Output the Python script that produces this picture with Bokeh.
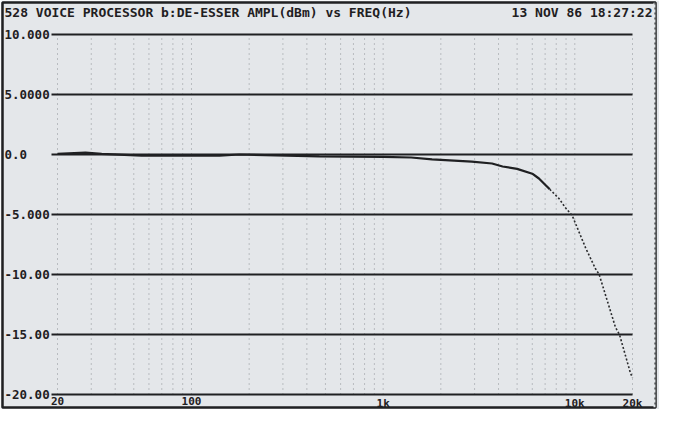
import math
from bokeh.plotting import figure
from bokeh.models import Range1d, Span
from bokeh.core.properties import value
from bokeh.embed import file_html
from bokeh.resources import INLINE

# ---- data ----
freq_hz = [20, 28, 34, 55, 140, 178, 465, 1000, 1400, 1800, 2900, 3700, 4200, 5000,
           6000, 6500, 7400, 8300, 8900, 9700, 11400, 12800, 13400, 16300, 17100, 19500, 20000]
level_dbm = [0.05, 0.15, 0.05, -0.1, -0.1, 0.0, -0.15, -0.2, -0.25, -0.4, -0.6, -0.75, -1.0, -1.2,
             -1.6, -2.0, -2.9, -3.7, -4.4, -5.1, -7.8, -9.5, -10.0, -14.4, -15.0, -18.2, -18.6]

y_ticks = [-20, -15, -10, -5, 0, 5, 10]
y_tick_labels = ["-20.00", "-15.00", "-10.00", "-5.000", "0.0", "5.0000", "10.000"]
x_ticks = [20, 100, 1000, 10000, 20000]
x_tick_labels = ["20", "100", "1k", "10k", "20k"]
x_grid = [20, 30, 40, 50, 60, 70, 80, 90,
          100, 200, 300, 400, 500, 600, 700, 800, 900,
          1000, 2000, 3000, 4000, 5000, 6000, 7000, 8000, 9000,
          10000, 20000]

title_text = "528 VOICE PROCESSOR  b:DE-ESSER AMPL(dBm) vs FREQ(Hz)"
date_text = "13 NOV 86 18:27:22"

# ---- layout (pixels) ----
W, H = 659, 409
B_L, B_R, B_T, B_B = 2, 4, 2, 2          # borders around the frame
FW, FH = W - B_L - B_R, H - B_T - B_B     # frame size
PX_LEFT, PX_RIGHT = 55, 630               # where 20 Hz and 20 kHz sit inside the frame
PY_TOP, PY_BOT = 32, 392                  # where +10 dB and -20 dB sit inside the frame

f_lo, f_hi = x_ticks[0], x_ticks[-1]
d_lo, d_hi = y_ticks[0], y_ticks[-1]
ppd = (PX_RIGHT - PX_LEFT) / (math.log10(f_hi) - math.log10(f_lo))
x0 = 10 ** (math.log10(f_lo) - PX_LEFT / ppd)
x1 = 10 ** (math.log10(f_lo) + (FW - PX_LEFT) / ppd)
ppdb = (PY_BOT - PY_TOP) / (d_hi - d_lo)
y1 = d_hi + PY_TOP / ppdb
y0 = d_hi - (FH - PY_TOP) / ppdb
grid_x_start = 10 ** (math.log10(f_lo) - 6 / ppd)   # rules start just after the labels

PAPER = "#e4e7ea"
INK = "#1f2022"
FONT = "DejaVu Sans Mono"

p = figure(width=W, height=H, x_axis_type="log",
           x_range=Range1d(x0, x1), y_range=Range1d(y0, y1),
           x_axis_location=None, y_axis_location=None,
           output_backend="svg", toolbar_location=None,
           min_border_left=B_L, min_border_right=B_R, min_border_top=B_T, min_border_bottom=B_B)
p.xgrid.visible = False
p.ygrid.visible = False
p.background_fill_color = PAPER
p.border_fill_color = PAPER
p.outline_line_color = INK
p.outline_line_width = 2.5

# right edge of the sheet is a dotted plotter line
p.add_layout(Span(location=x1, dimension="height", line_color=PAPER, line_width=4))
p.add_layout(Span(location=x1, dimension="height", line_color=INK, line_width=2, line_dash="2 3"))

# dotted vertical grid
p.segment(x0=x_grid, y0=[d_lo] * len(x_grid), x1=x_grid, y1=[d_hi] * len(x_grid),
          line_color="#8d9196", line_width=1, line_dash="1 4")
# solid horizontal rules at every 5 dB
p.segment(x0=[grid_x_start] * len(y_ticks), y0=y_ticks, x1=[f_hi] * len(y_ticks), y1=y_ticks,
          line_color=INK, line_width=2)

# tick labels
p.text(x=[f_lo] * len(y_ticks), y=y_ticks, text=y_tick_labels, x_offset=-PX_LEFT + 2,
       text_font=value(FONT), text_font_style="bold", text_font_size="12.5px",
       text_color=INK, text_align="left", text_baseline="middle")
p.text(x=x_ticks, y=[d_lo] * len(x_ticks), text=x_tick_labels, y_offset=2,
       text_font=value(FONT), text_font_style="bold", text_font_size="11px",
       text_color=INK, text_align="center", text_baseline="top")

# response curve: solid trace in the flat part, dotted plotter trace on the steep slope
k = freq_hz.index(7400)
p.line(freq_hz[:k + 1], level_dbm[:k + 1], line_color=INK, line_width=2.2)
p.line(freq_hz[k:], level_dbm[k:], line_color="#2a2b2d", line_width=1.6, line_dash="2 2")

# header
p.text(x=[f_lo], y=[d_hi], text=[title_text], x_offset=-PX_LEFT + 2, y_offset=-22,
       text_font=value(FONT), text_font_style="bold", text_font_size="13px",
       text_color=INK, text_align="left", text_baseline="middle")
p.text(x=[f_hi], y=[d_hi], text=[date_text], x_offset=20, y_offset=-22,
       text_font=value(FONT), text_font_style="bold", text_font_size="13px",
       text_color=INK, text_align="right", text_baseline="middle")

open("out.html", "w").write(file_html(p, INLINE))
